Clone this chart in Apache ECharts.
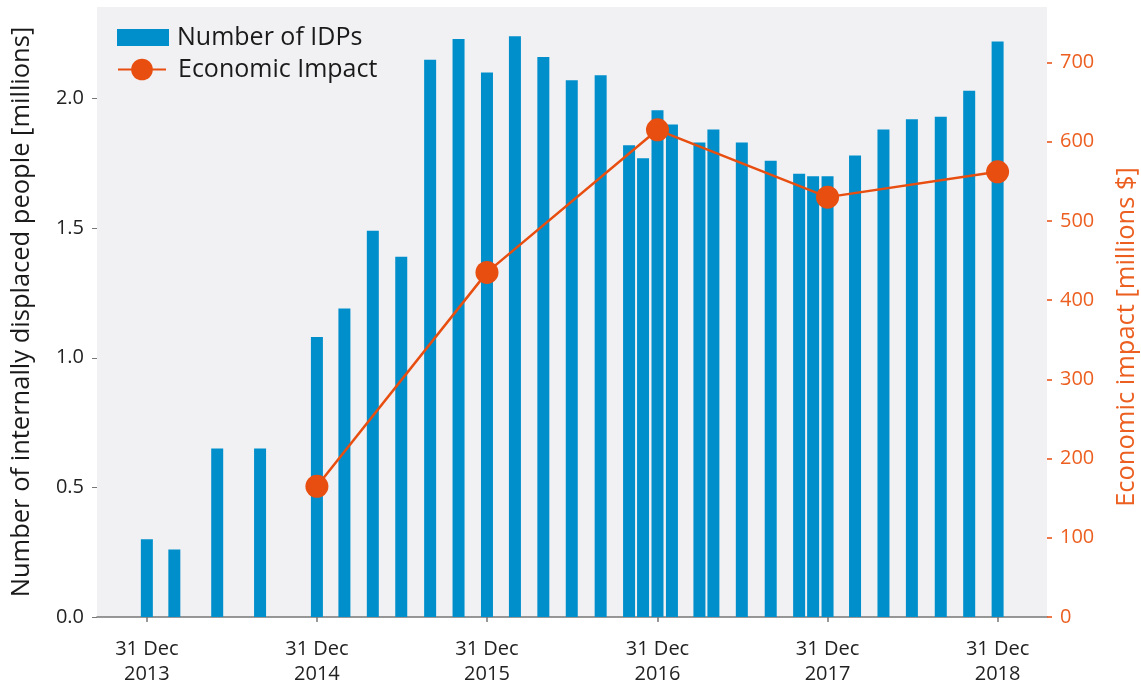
<!DOCTYPE html>
<html>
<head>
<meta charset="utf-8">
<script src="https://cdn.jsdelivr.net/npm/echarts@6/dist/echarts.min.js"></script>
<style>
  html, body { margin: 0; padding: 0; background: #fff; }
  #chart { width: 1141px; height: 686px; }
</style>
</head>
<body>
<div id="chart"></div>
<script>
// IDPs per reporting date (millions)
var idpDates = [
  '2013-12-31', '2014-02-28', '2014-05-31', '2014-08-31', '2014-12-31',
  '2015-02-28', '2015-04-30', '2015-06-30', '2015-08-31', '2015-10-31', '2015-12-31',
  '2016-02-29', '2016-04-30', '2016-06-30', '2016-08-31', '2016-10-31', '2016-11-30', '2016-12-31',
  '2017-01-31', '2017-03-31', '2017-04-30', '2017-06-30', '2017-08-31', '2017-10-31', '2017-11-30', '2017-12-31',
  '2018-02-28', '2018-04-30', '2018-06-30', '2018-08-31', '2018-10-31', '2018-12-31'
];
var idpValues = [
  0.30, 0.26, 0.65, 0.65, 1.08,
  1.19, 1.49, 1.39, 2.15, 2.23, 2.10,
  2.24, 2.16, 2.07, 2.09, 1.82, 1.77, 1.955,
  1.90, 1.83, 1.88, 1.83, 1.76, 1.71, 1.70, 1.70,
  1.78, 1.88, 1.92, 1.93, 2.03, 2.22
];
// economic impact per year end (millions $)
var impactDates = ['2014-12-31', '2015-12-31', '2016-12-31', '2017-12-31', '2018-12-31'];
var impactValues = [165, 435, 615, 530, 562];

var leftTicks = [0, 0.5, 1.0, 1.5, 2.0];
var rightTicks = [0, 100, 200, 300, 400, 500, 600, 700];
var xTickDates = ['2013-12-31', '2014-12-31', '2015-12-31', '2016-12-31', '2017-12-31', '2018-12-31'];

var months = ['Jan', 'Feb', 'Mar', 'Apr', 'May', 'Jun', 'Jul', 'Aug', 'Sep', 'Oct', 'Nov', 'Dec'];
var blue = '#008fcb';
var orange = '#e84e0f';
var orangeText = '#ec5f20';
var font = 'Open Sans';

function ts(s) { return Date.parse(s + 'T00:00:00Z'); }

function pairs(dates, values) {
  var out = [];
  for (var i = 0; i < dates.length; i++) out.push([ts(dates[i]), values[i]]);
  return out;
}

var xTicks = xTickDates.map(ts);

var chart = echarts.init(document.getElementById('chart'));
chart.setOption({
  animation: false,
  textStyle: { fontFamily: font },
  grid: {
    left: 97, right: 94, top: 7, bottom: 69,
    outerBoundsMode: 'none',
    show: true, backgroundColor: '#f1f1f4', borderWidth: 0
  },
  legend: [{
    data: [{ name: 'Number of IDPs', icon: 'rect' }],
    left: 117, top: 25, padding: 0, orient: 'vertical',
    itemWidth: 52, itemHeight: 17,
    textStyle: { fontSize: 25, color: '#1a1a1a', fontFamily: font, padding: [0, 0, 0, 3] }
  }, {
    data: ['Economic Impact'],
    left: 117, top: 57, padding: 0, orient: 'vertical',
    itemWidth: 48, itemHeight: 27,
    textStyle: { fontSize: 25, color: '#1a1a1a', fontFamily: font, padding: [0, 0, 0, 7] }
  }],
  xAxis: {
    type: 'value',
    min: ts('2013-09-15'),
    max: ts('2019-04-16'),
    splitLine: { show: false },
    axisLine: { lineStyle: { color: '#777', width: 1.5 } },
    axisTick: { customValues: xTicks, length: 5, lineStyle: { color: '#777', width: 1.5 } },
    axisLabel: {
      customValues: xTicks,
      fontSize: 20, color: '#222', margin: 20, lineHeight: 25,
      formatter: function (v) {
        var d = new Date(v);
        return d.getUTCDate() + ' ' + months[d.getUTCMonth()] + '\n' + d.getUTCFullYear();
      }
    }
  },
  yAxis: [{
    type: 'value', min: 0, max: 2.353,
    name: 'Number of internally displaced people [millions]',
    nameLocation: 'middle', nameGap: 62, nameRotate: 90,
    nameTextStyle: { fontSize: 25.5, color: '#1a1a1a' },
    splitLine: { show: false },
    axisLine: { show: false },
    axisTick: { show: true, customValues: leftTicks, length: 5, lineStyle: { color: '#777' } },
    axisLabel: {
      customValues: leftTicks, fontSize: 20, color: '#222', margin: 13,
      formatter: function (v) { return v.toFixed(1); }
    }
  }, {
    type: 'value', min: 0, max: 770, position: 'right',
    name: 'Economic impact [millions $]',
    nameLocation: 'middle', nameGap: 67, nameRotate: 90,
    nameTextStyle: { fontSize: 25.5, color: orangeText, padding: [0, 50, 0, 0] },
    splitLine: { show: false },
    axisLine: { show: false },
    axisTick: { show: true, customValues: rightTicks, length: 5, lineStyle: { color: orange, width: 1.5 } },
    axisLabel: { customValues: rightTicks, fontSize: 20, color: orangeText, margin: 13 }
  }],
  series: [{
    name: 'Number of IDPs',
    type: 'bar',
    yAxisIndex: 0,
    barWidth: 12,
    itemStyle: { color: blue },
    data: pairs(idpDates, idpValues)
  }, {
    name: 'Economic Impact',
    type: 'line',
    yAxisIndex: 1,
    symbol: 'circle',
    symbolSize: 23,
    itemStyle: { color: orange },
    lineStyle: { color: orange, width: 2.5 },
    data: pairs(impactDates, impactValues)
  }]
});
</script>
</body>
</html>
